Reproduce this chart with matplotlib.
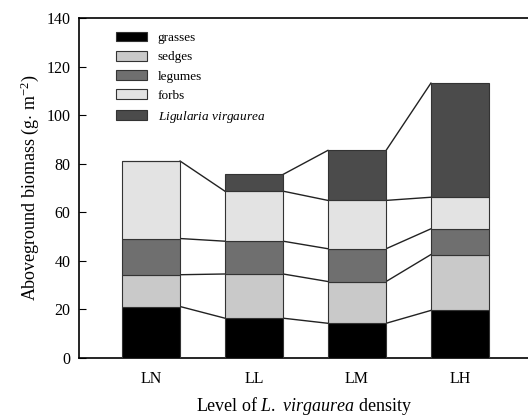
"""
Stacked aboveground biomass by L. virgaurea density level
"""

import numpy as np
import matplotlib
matplotlib.use("Agg")
import matplotlib.pyplot as plt

plt.rcParams['font.family'] = 'Liberation Serif'
plt.rcParams['mathtext.fontset'] = 'custom'
plt.rcParams['mathtext.rm'] = 'Liberation Serif'
plt.rcParams['mathtext.it'] = 'Liberation Serif:italic'

levels = ["LN", "LL", "LM", "LH"]
grasses = [21.2, 16.4, 14.3, 19.6]
sedges = [13.1, 18.2, 17.2, 23.0]
legumes = [14.9, 13.5, 13.5, 10.6]
forbs = [31.9, 20.6, 19.9, 13.0]
ligularia = [0.0, 6.9, 20.6, 47.0]

layers = [grasses, sedges, legumes, forbs, ligularia]
names = ["grasses", "sedges", "legumes", "forbs", r"$\mathit{Ligularia}$ $\mathit{virgaurea}$"]
colors = ["#000000", "#c9c9c9", "#6f6f6f", "#e3e3e3", "#4b4b4b"]

fig = plt.figure(figsize=(5.28, 4.18), dpi=100)
ax = fig.add_axes([0.1496, 0.1435, 0.8504, 0.8134])

x = np.arange(len(levels))
width = 0.565
bottom = np.zeros(len(levels))
for vals, name, col in zip(layers, names, colors):
    vals = np.array(vals)
    ax.bar(x, vals, width, bottom=bottom, color=col, edgecolor="#333333",
           linewidth=0.8, label=name, zorder=3)
    top = bottom + vals
    # connecting lines between bar tops
    for i in range(len(levels) - 1):
        if vals[i] > 0 and vals[i + 1] > 0:
            ax.plot([x[i] + width / 2, x[i + 1] - width / 2], [top[i], top[i + 1]],
                    color="#222222", linewidth=1.0, zorder=2)
    bottom = top

ax.set_xlim(-0.699, 3.66)
ax.set_ylim(0, 140)
ax.set_yticks(range(0, 141, 20))
ax.set_xticks(x)
ax.set_xticklabels(levels)
ax.tick_params(axis='y', direction='in', length=5, labelsize=11.5, pad=6)
ax.tick_params(axis='x', length=0, labelsize=11.5, pad=9)
ax.spines['right'].set_visible(False)
for s in ['left', 'bottom', 'top']:
    ax.spines[s].set_linewidth(1.2)

ax.set_ylabel(r"Aboveground biomass (g$\cdot$ m$^{-2}$)", fontsize=13, labelpad=4)
ax.set_xlabel(r"Level of $\mathit{L.}$ $\mathit{virgaurea}$ density", fontsize=13, labelpad=6)

ax.legend(loc='upper left', bbox_to_anchor=(0.055, 0.995), frameon=False,
          fontsize=9.5, handlelength=2.35, handleheight=0.75, labelspacing=0.52,
          handletextpad=0.85)

fig.savefig("out.png", dpi=100)
